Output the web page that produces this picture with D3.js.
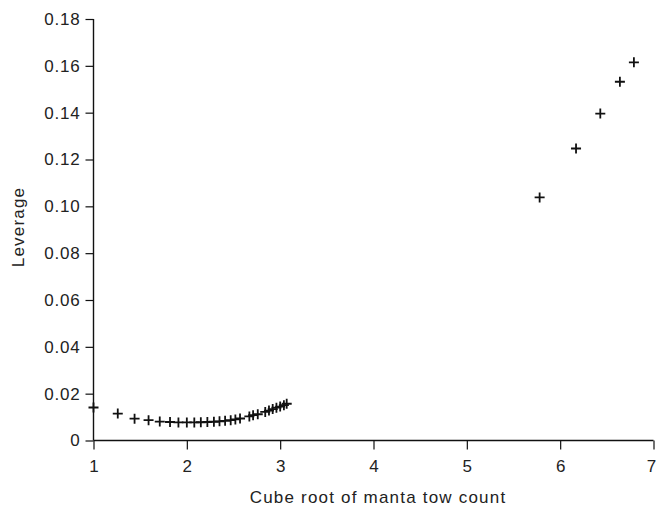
<!DOCTYPE html>
<html>
<head>
<meta charset="utf-8">
<script src="https://cdn.jsdelivr.net/npm/d3@7"></script>
<style>
  body { margin: 0; background: #fff; }
  text { font-family: "Liberation Sans", Arial, sans-serif; fill: #222; }
</style>
</head>
<body>
<script>
// cube root of manta tow count vs leverage
var rootCount = [1.00, 1.26, 1.44, 1.59, 1.71, 1.82, 1.91, 2.00, 2.08, 2.15, 2.22, 2.29, 2.35,
                 2.41, 2.47, 2.52, 2.57, 2.67, 2.71, 2.76, 2.84, 2.88, 2.92, 2.96, 3.00, 3.04, 3.07,
                 5.78, 6.17, 6.43, 6.64, 6.79];
var leverage = [0.0141, 0.0115, 0.0093, 0.0087, 0.0081, 0.0079, 0.0077, 0.0077, 0.0077, 0.0078,
                0.0079, 0.0080, 0.0082, 0.0084, 0.0087, 0.0090, 0.0094, 0.0103, 0.0108, 0.0112,
                0.0122, 0.0128, 0.0134, 0.0140, 0.0145, 0.0151, 0.0157,
                0.1038, 0.1247, 0.1396, 0.1532, 0.1615];
var xTicks = [1, 2, 3, 4, 5, 6, 7];
var yTicks = [0, 0.02, 0.04, 0.06, 0.08, 0.10, 0.12, 0.14, 0.16, 0.18];

var w = 657, h = 513;

var svg = d3.select("body").append("svg")
    .attr("width", w)
    .attr("height", h);

var x = d3.scaleLinear().domain([1, 7]).range([93.5, 653.5]);
var y = d3.scaleLinear().domain([0, 0.18]).range([440.5, 19]);

// x axis
var xAxis = svg.append("g")
    .attr("transform", "translate(0,440.5)")
    .call(d3.axisBottom(x).tickValues(xTicks).tickSize(9).tickPadding(10)
        .tickFormat(d3.format("d")));
xAxis.select(".domain").attr("d", "M" + x(1) + ",0H" + x(7)).attr("stroke", "#111").attr("stroke-width", 1.6);
xAxis.selectAll(".tick line").attr("stroke", "#111").attr("stroke-width", 1.2);
xAxis.selectAll("text").style("font-size", "17px").attr("fill", "#222");
// last label sits on the right edge, nudge it in
xAxis.selectAll(".tick text").filter(function (d) { return d === 7; }).attr("dx", "-2.5");

// y axis
var yAxis = svg.append("g")
    .attr("transform", "translate(93.5,0)")
    .call(d3.axisLeft(y).tickValues(yTicks).tickSize(8).tickPadding(5)
        .tickFormat(function (d) { return d === 0 ? "0" : d3.format(".2f")(d); }));
yAxis.select(".domain").attr("d", "M0," + y(0) + "V" + y(0.18)).attr("stroke", "#111").attr("stroke-width", 1.4);
yAxis.selectAll(".tick line").attr("stroke", "#111").attr("stroke-width", 1.2);
yAxis.selectAll("text").style("font-size", "17px").style("letter-spacing", "0.8px").attr("fill", "#222");

// axis titles
svg.append("text")
    .attr("x", 378)
    .attr("y", 503)
    .attr("text-anchor", "middle")
    .style("font-size", "17px")
    .style("letter-spacing", "1.2px")
    .text("Cube root of manta tow count");

svg.append("text")
    .attr("transform", "translate(24,227) rotate(-90)")
    .attr("text-anchor", "middle")
    .style("font-size", "17px")
    .style("letter-spacing", "1.2px")
    .text("Leverage");

// plus markers
svg.append("g")
    .selectAll("path")
    .data(rootCount)
    .enter()
    .append("path")
    .attr("d", function (d, i) {
        var cx = x(d), cy = y(leverage[i]);
        return "M" + (cx - 5) + "," + cy + "H" + (cx + 5) + "M" + cx + "," + (cy - 5) + "V" + (cy + 5);
    })
    .attr("stroke", "#111")
    .attr("stroke-width", 1.8)
    .attr("fill", "none");
</script>
</body>
</html>
